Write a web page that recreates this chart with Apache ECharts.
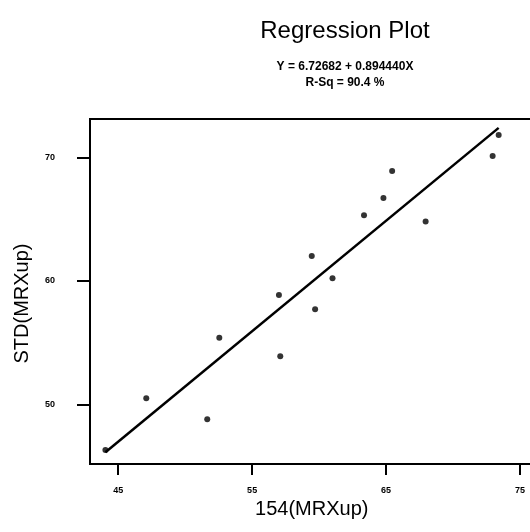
<!DOCTYPE html>
<html>
<head>
<meta charset="utf-8">
<script src="https://cdn.jsdelivr.net/npm/echarts@6/dist/echarts.min.js"></script>
<style>
  html, body { margin: 0; padding: 0; background: #fff; }
  #main { width: 530px; height: 532px; }
</style>
</head>
<body>
<div id="main"></div>
<script>
  // 154(MRXup) vs STD(MRXup)
  const xValues = [44.05, 47.1, 51.65, 52.55, 57.0, 57.1, 59.45, 59.7, 61.0, 63.35, 64.8, 65.45, 67.95, 72.95, 73.4]
  const yValues = [46.3, 50.5, 48.8, 55.4, 58.85, 53.9, 62.0, 57.7, 60.2, 65.3, 66.7, 68.9, 64.8, 70.1, 71.8]
  const xTicks = [45, 55, 65, 75]
  const yTicks = [50, 60, 70]
  const intercept = 6.72682
  const slope = 0.89444

  const points = xValues.map((x, i) => [x, yValues[i]])
  const x0 = Math.min(...xValues)
  const x1 = Math.max(...xValues)
  const fitLine = [[x0, intercept + slope * x0], [x1, intercept + slope * x1]]

  const chart = echarts.init(document.getElementById('main'))

  const option = {
    backgroundColor: '#fff',
    animation: false,
    title: [
      {
        text: 'Regression Plot',
        left: 340,
        top: 14,
        textAlign: 'center',
        textStyle: { fontFamily: 'Arial, Liberation Sans', fontSize: 24, fontWeight: 'normal', color: '#000' },
      },
      {
        text: 'Y = 6.72682 + 0.894440X\nR-Sq = 90.4 %',
        left: 340,
        top: 54,
        textAlign: 'center',
        textStyle: { fontFamily: 'Arial, Liberation Sans', fontSize: 12, fontWeight: 'bold', color: '#000', lineHeight: 16, align: 'center' },
      },
    ],
    grid: {
      left: 90,
      top: 119,
      width: 443.5,
      height: 345,
      outerBoundsMode: 'none',
      show: true,
      borderColor: '#000',
      borderWidth: 2,
      backgroundColor: 'transparent',
    },
    xAxis: {
      type: 'value',
      min: 42.9,
      max: 76,
      name: '154(MRXup)',
      nameLocation: 'middle',
      nameGap: 33,
      nameTextStyle: { fontFamily: 'Arial, Liberation Sans', fontSize: 20, color: '#000' },
      splitLine: { show: false },
      axisLine: { lineStyle: { color: '#000', width: 2 } },
      axisTick: { show: true, customValues: xTicks, length: 11, lineStyle: { color: '#000', width: 2 } },
      axisLabel: {
        customValues: xTicks,
        margin: 22,
        fontFamily: 'Arial, Liberation Sans',
        fontSize: 9,
        fontWeight: 'bold',
        color: '#000',
      },
    },
    yAxis: {
      type: 'value',
      min: 45.17,
      max: 73.1,
      name: 'STD(MRXup)',
      nameLocation: 'middle',
      nameGap: 58,
      nameTextStyle: { fontFamily: 'Arial, Liberation Sans', fontSize: 20, color: '#000', padding: [0, 24, 0, 0] },
      splitLine: { show: false },
      axisLine: { show: true, lineStyle: { color: '#000', width: 2 } },
      axisTick: { show: true, customValues: yTicks, length: 13, lineStyle: { color: '#000', width: 2 } },
      axisLabel: {
        customValues: yTicks,
        margin: 35,
        fontFamily: 'Arial, Liberation Sans',
        fontSize: 9,
        fontWeight: 'bold',
        color: '#000',
      },
    },
    series: [
      {
        name: 'Regression',
        type: 'line',
        data: fitLine,
        symbol: 'none',
        lineStyle: { color: '#000', width: 2.5 },
        z: 2,
      },
      {
        name: 'Data',
        type: 'scatter',
        data: points,
        symbol: 'circle',
        symbolSize: 6,
        itemStyle: { color: '#000' },
        z: 3,
      },
    ],
  }

  chart.setOption(option)
</script>
</body>
</html>
